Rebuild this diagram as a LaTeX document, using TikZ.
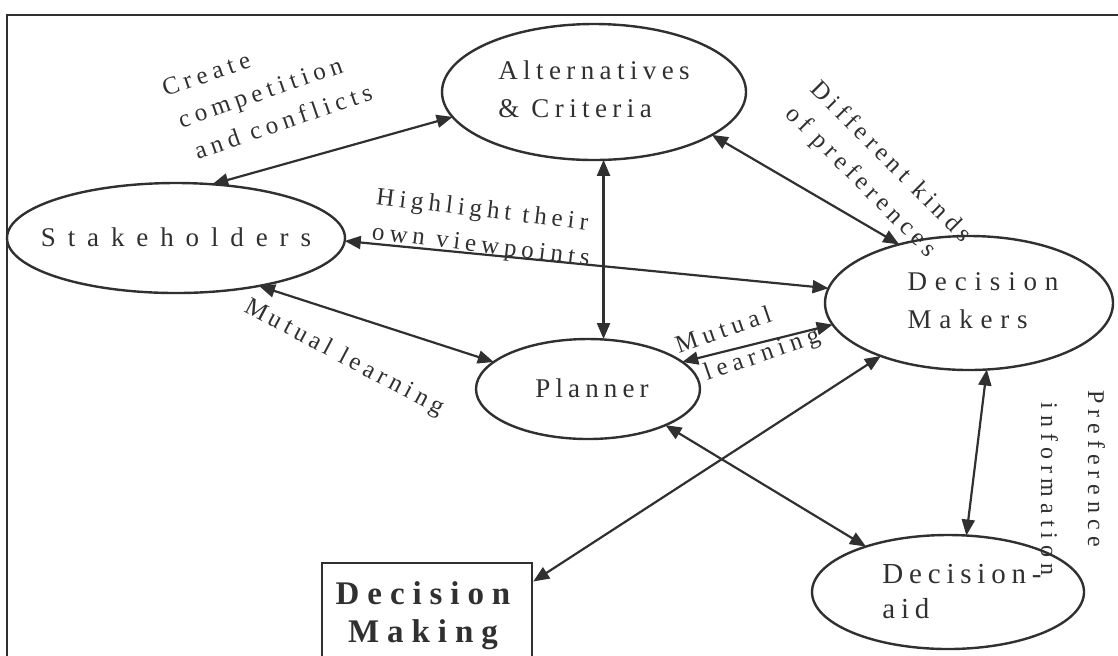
\documentclass[tikz,border=0pt]{standalone}
\usepackage{fontspec}
\setmainfont{Liberation Serif}
\usetikzlibrary{arrows.meta,shapes.geometric}
\definecolor{ink}{HTML}{303030}
% letter spacing inside a node font
\newcommand\ls[1]{\addfontfeature{LetterSpace=#1}}
% text centred on a node without widening the shape:
% [#1] = column alignment, #2 = 2*x shift, #3 = raise
\newcommand\tx[4][l]{\makebox[0pt]{\hspace*{#2}\smash{\raisebox{#3}{\begin{tabular}{@{}#1@{}}#4\end{tabular}}}}}
\tikzset{
  ell/.style={draw=ink, line width=1.2pt, ellipse, inner sep=0pt, outer sep=0pt, text=ink},
  nodefont/.style={font=\fontsize{13.5}{19}\selectfont\ls{#1}},
  lbl/.style={text=ink, inner sep=0pt, align=left, font=\fontsize{12.5}{17.5}\selectfont\ls{#1}},
  arr/.style={draw=ink, line width=1.1pt, {Triangle[length=8pt,width=6.5pt]}-{Triangle[length=8pt,width=6.5pt]}},
  frame/.style={draw=ink, line width=1.1pt}
}
\begin{document}
\begin{tikzpicture}[x=0.5pt,y=-0.5pt]
\useasboundingbox (0,0) rectangle (1118,655);
% outer frame
\draw[frame] (7,660) -- (7,15) -- (1118,15);

% actors
\node[ell, nodefont=20, minimum width=152pt, minimum height=68pt] (alt) at (594,92)
  {\tx{0pt}{-3pt}{Alternatives\\\& Criteria}};
\node[ell, nodefont=44, minimum width=169pt, minimum height=55pt] (stake) at (176,238)
  {\tx{0pt}{-4pt}{Stakeholders}};
\node[ell, nodefont=29, minimum width=144pt, minimum height=67pt] (dm) at (969,303)
  {\tx{14pt}{-3pt}{Decision\\Makers}};
\node[ell, nodefont=19, minimum width=112pt, minimum height=50pt] (plan) at (588,389)
  {\tx{4pt}{-4pt}{Planner}};
\node[ell, font=\fontsize{14.5}{17.5}\selectfont\ls{20}, minimum width=136pt, minimum height=57pt] (da) at (948,592)
  {\tx{14pt}{-4.6pt}{Decision-\\aid}};
\node[draw=ink, line width=1.2pt, inner sep=0pt, minimum width=105pt, minimum height=53pt,
      text=ink, font=\fontsize{16.5}{19}\selectfont\bfseries\ls{24}] (box) at (427,616)
  {\tx[c]{-4pt}{-4.3pt}{Decision\\Making}};

% relations
\draw[arr] (stake.56.8) -- (alt.190.1);
\draw[arr] (stake.-1.3) -- (dm.174.9);
\draw[arr] (stake.-30.9) -- (plan.164);
\draw[arr] (alt.-82.5) -- (alt.-82.5 |- plan.north);
\draw[arr] (alt.-20.8) -- (dm.140);
\draw[arr] (plan.16.6) -- (dm.189.5);
\draw[arr] (plan.-25.4) -- (da.151.9);
\draw[arr] (dm.211.6) -- (box.18);
\draw[arr] (dm.-75) -- (da.72.8);

% relation labels
\node[lbl=21, rotate=19] (lcreate) at (267,90)
  {Create\\\hspace*{2.5pt}competition\\\hspace*{5pt}and conflicts};
\node[lbl=20, rotate=-7] (lhigh) at (483,229)
  {Highlight their\\own viewpoints};
\node[lbl=20, rotate=-45] (lpref) at (878,175)
  {Different kinds\\of preferences};
\node[lbl=19, rotate=-28] (lmut1) at (344,358)
  {Mutual learning};
\node[lbl=22, rotate=19] (lmut2) at (748,342)
  {Mutual\\\hspace*{9pt}learning};
\node[lbl=25, rotate=-90, font=\fontsize{12}{23.5}\selectfont\ls{25}] (linfo) at (1073,483)
  {Preference\\\hspace*{6pt}information};
\end{tikzpicture}
\end{document}
